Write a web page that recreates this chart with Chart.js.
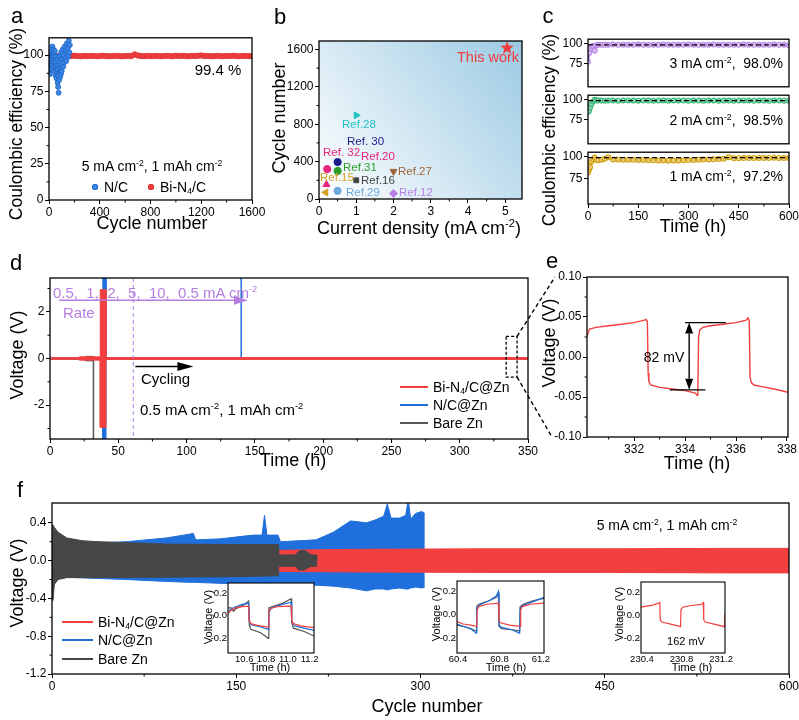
<!DOCTYPE html>
<html>
<head>
<meta charset="utf-8">
<title>Bi-N4/C@Zn figure</title>
<script src="https://cdn.jsdelivr.net/npm/chart.js@4.4.1/dist/chart.umd.min.js"></script>
<style>
  html, body { margin: 0; padding: 0; background: #fff; }
  body { position: relative; width: 799px; height: 720px; overflow: hidden;
         font-family: "Liberation Sans", Arial, sans-serif; }
  canvas { position: absolute; }
  .t { position: absolute; white-space: nowrap; line-height: 1; color: #000; }
  .t sup { font-size: 0.62em; vertical-align: 0.6em; line-height: 0; }
  .t sub { font-size: 0.62em; vertical-align: -0.25em; line-height: 0; }
  .key { position: absolute; height: 2px; }
  .dot { position: absolute; border-radius: 50%; }
</style>
</head>
<body>
<script>
// colours
const RED = '#f23f3f', BLUE = '#1f6fdc', GRAY = '#474747', PURPLE = '#b57ee3';

// ---- panel a: coulombic efficiency at 5 mA cm-2 ----
const aBiCycles = [0, 3, 6, 10, 15, 20, 30, 40, 50, 60,
  75, 100, 125, 150, 175, 200, 225, 250, 275, 300,
  325, 350, 375, 400, 425, 450, 475, 500, 525, 550,
  575, 600, 625, 650, 675, 700, 725, 750, 775, 800,
  825, 850, 875, 900, 925, 950, 975, 1000, 1025, 1050,
  1075, 1100, 1125, 1150, 1175, 1200, 1225, 1250, 1275, 1300,
  1325, 1350, 1375, 1400, 1425, 1450, 1475, 1500, 1525, 1550,
  1575, 1600];
const aBiCE = [88, 92, 94.5, 96, 97.2, 97.8, 98.4, 98.8, 99.0, 99.2,
  99.3, 99.4, 99.5, 99.3, 99.4, 99.6, 99.4, 99.3, 99.5, 99.4,
  99.4, 99.5, 99.3, 99.4, 99.6, 99.4, 99.3, 99.4, 99.5, 99.4,
  99.3, 99.4, 99.5, 99.4, 100.5, 99.8, 99.4, 99.3, 99.5, 99.4,
  99.4, 99.5, 99.3, 99.4, 99.5, 99.4, 99.3, 99.6, 99.4, 99.5,
  99.4, 99.3, 99.5, 99.4, 99.6, 99.8, 99.4, 99.5, 99.3, 99.4,
  99.5, 99.4, 99.3, 99.5, 99.4, 99.6, 99.4, 99.3, 99.5, 99.4,
  99.4, 99.3];
const aNCCycles = [1, 2, 3, 4, 5, 6, 7, 8, 9, 10, 11, 12, 13, 14,
  16, 18, 20, 22, 24, 26, 28, 30, 32, 34, 36, 38, 40, 42, 44, 46, 48, 50, 52, 54, 56, 58,
  60, 62, 64, 66, 68, 70, 72, 74, 76, 78, 80, 82, 84, 86, 88, 90, 92, 94, 96, 98, 100,
  104, 108, 112, 116, 120, 124, 128, 132, 136, 140, 144, 148, 152, 156, 160, 164];
const aNCCE = [96, 92, 88, 99, 94, 90, 97, 87, 101, 95, 92, 99, 96, 93,
  98, 94, 103, 97, 91, 106, 95, 100, 93, 104, 97, 101, 96, 99, 92, 103, 89, 97, 86, 95,
  91, 99, 84, 93, 88, 97, 81, 90, 78, 86, 74, 95, 83, 99, 88, 93, 85, 100, 91, 87, 102, 94, 89,
  97, 104, 92, 100, 95, 106, 98, 103, 96, 108, 101, 105, 99, 110, 102, 107];
const aXTicks = [0, 400, 800, 1200, 1600], aXMinor = [200, 600, 1000, 1400];
const aYTicks = [0, 25, 50, 75, 100], aYMinor = [12.5, 37.5, 62.5, 87.5];

// ---- panel b: comparison with literature ----
const bNames = ['This work', 'Ref.28', 'Ref. 30', 'Ref. 32', 'Ref.20', 'Ref.31', 'Ref.27', 'Ref.15', 'Ref.16', 'Ref.29', 'Ref.12'];
const bCurrent = [5.05, 1.0, 0.5, 0.22, 0.2, 0.5, 2.0, 0.18, 1.0, 0.5, 2.0];
const bCycles = [1615, 895, 395, 320, 155, 300, 295, 70, 200, 87, 60];
const bXTicks = [0, 1, 2, 3, 4, 5], bXMinor = [0.5, 1.5, 2.5, 3.5, 4.5];
const bYTicks = [0, 400, 800, 1200, 1600], bYMinor = [200, 600, 1000, 1400];

// ---- panel c: CE at 3 / 2 / 1 mA cm-2 ----
const cTime = [0, 3, 6, 10, 15, 20, 25, 30, 40, 50, 60,
  75, 90, 105, 120, 135, 150, 165, 180, 195,
  210, 225, 240, 255, 270, 285, 300, 315, 330, 345,
  360, 375, 390, 405, 420, 435, 450, 465, 480, 495,
  510, 525, 540, 555, 570, 585, 600];
const c3mA = [77, 88, 93, 95.5, 97, 91, 97.6, 98, 98.2, 98, 98.1,
  98.3, 98, 98.2, 98.1, 98, 98.3, 98.2, 98, 98.1,
  98.2, 98.3, 98, 98.1, 98.2, 98, 98.3, 98.1, 98, 98.2,
  98.1, 98.3, 98, 98.2, 98.1, 98, 98.2, 98.3, 98.1, 98,
  98.2, 98.1, 98, 98.3, 98.2, 98.1, 97.6];
const c2mA = [85, 86, 90, 94, 97.5, 99.5, 98.8, 98.5, 98.6, 98.4, 98.5,
  98.6, 98.4, 98.5, 98.7, 98.5, 98.4, 98.6, 98.5, 98.3,
  98.5, 98.6, 98.4, 98.5, 98.7, 98.5, 98.4, 98.6, 98.5, 98.4,
  98.6, 98.5, 98.3, 98.5, 98.6, 98.4, 98.5, 98.7, 98.5, 98.4,
  98.6, 98.5, 98.4, 98.6, 98.5, 98.4, 98.2];
const c1mA = [82, 85, 88, 94, 97, 99, 96.5, 95.8, 96.5, 97.5, 99.2,
  96.8, 96.6, 96.5, 96.4, 96.3, 96.2, 96, 95.8, 95.7,
  95.6, 95.5, 95.4, 95.5, 95.6, 95.8, 96, 96.2, 96.4, 96.6,
  96.8, 97, 97.3, 97.6, 99.3, 98, 98.2, 98.3, 98.4, 98.5,
  98.5, 98.4, 98.5, 98.6, 98.5, 98.4, 98.3];
const cLevels = [98.0, 98.3, 98.9];
const cXTicks = [0, 150, 300, 450, 600], cXMinor = [75, 225, 375, 525];
const cYTicks = [75, 100];

// ---- panel d: symmetric cells, rate + cycling at 0.5 mA cm-2 ----
const dBiX = [0.5, 20, 22, 34, 36.8, 36.8, 41, 41, 350];
const dBiHi = [0.035, 0.035, 0.07, 0.07, 0.07, 2.95, 2.95, 0.04, 0.04];
const dBiLo = [-0.035, -0.035, -0.07, -0.07, -0.07, -2.95, -2.95, -0.04, -0.04];
const dNCX = [0.5, 38.7, 38.7, 41, 41, 140];
const dNCHi = [0.02, 0.02, 3.45, 3.45, 0.03, 0.03];
const dNCLo = [-0.02, -0.02, -3.45, -3.45, -0.03, -0.03];
const dNCSpike = [[140, 0], [140, 3.45]];
const dBareX = [0.5, 25, 26, 31.8];
const dBareHi = [0.02, 0.02, 0.09, 0.09];
const dBareLo = [-0.02, -0.02, -0.1, -0.1];
const dBareDrop = [[31.8, 0.09], [31.8, -3.45]];
const dRateEnd = 61;
const dRateArrow = [6.8, 145, 2.5];
const dCycleArrow = [62.5, 105, -0.34];
const dZoomBox = [334, 342, -0.8, 0.95];
const dXTicks = [0, 50, 100, 150, 200, 250, 300, 350], dXMinor = [25, 75, 125, 175, 225, 275, 325];
const dYTicks = [-2, 0, 2], dYMinor = [-3, -1, 1, 3];

// ---- panel e: zoom of Bi-N4/C@Zn profile ----
const eProfile = [[330.15, 0.026], [330.25, 0.035], [330.5, 0.037], [331, 0.039], [331.5, 0.041],
  [332, 0.043], [332.4, 0.046], [332.47, 0.047], [332.52, 0.044], [332.55, -0.02], [332.58, -0.031],
  [332.65, -0.035], [333, -0.038], [333.5, -0.04], [334, -0.042], [334.4, -0.045], [334.47, -0.048],
  [334.5, -0.045], [334.53, 0.025], [334.58, 0.034], [334.7, 0.037], [335, 0.039], [335.5, 0.041],
  [336, 0.043], [336.4, 0.046], [336.47, 0.049], [336.52, 0.045], [336.55, -0.025], [336.6, -0.032],
  [336.7, -0.035], [337, -0.037], [337.5, -0.04], [338.04, -0.044]];
const eGapTop = [334.0, 335.6, 0.043], eGapBot = [333.4, 334.8, -0.041], eArrowX = 334.16;
const eXTicks = [332, 334, 336, 338], eXMinor = [331, 333, 335, 337];
const eYTicks = [-0.1, -0.05, 0, 0.05, 0.1], eYMinor = [-0.075, -0.025, 0.025, 0.075];

// ---- panel f: cycling at 5 mA cm-2 (envelopes of the dense profiles) ----
const fBlueX = [0, 60, 93, 112, 115, 117, 136, 164, 171, 173, 175, 184, 186, 215, 229, 243, 256, 263, 270, 273, 276, 283, 288, 290, 292, 296, 301, 303.5];
const fBlueHi = [0.17, 0.2, 0.24, 0.28, 0.29, 0.22, 0.23, 0.27, 0.27, 0.48, 0.27, 0.27, 0.2, 0.22, 0.3, 0.42, 0.4, 0.43, 0.47, 0.6, 0.45, 0.45, 0.48, 0.65, 0.44, 0.5, 0.52, 0.5];
const fBlueLo = [-0.17, -0.2, -0.22, -0.23, -0.23, -0.23, -0.24, -0.25, -0.25, -0.25, -0.25, -0.26, -0.26, -0.26, -0.27, -0.29, -0.32, -0.3, -0.3, -0.31, -0.3, -0.29, -0.3, -0.3, -0.29, -0.28, -0.29, -0.28];
const fRedX = [0, 100, 184, 250, 350, 450, 550, 600];
const fRedHi = [0.11, 0.11, 0.11, 0.12, 0.125, 0.125, 0.13, 0.13];
const fRedLo = [-0.11, -0.11, -0.115, -0.12, -0.125, -0.125, -0.13, -0.13];
const fGrayX = [0, 0.6, 2, 5, 12, 25, 39, 93, 150, 184, 184.5, 198, 201, 205, 208, 211, 215, 215.5];
const fGrayHi = [0.05, 0.38, 0.35, 0.3, 0.24, 0.21, 0.2, 0.175, 0.17, 0.17, 0.06, 0.06, 0.1, 0.11, 0.09, 0.06, 0.06, 0];
const fGrayLo = [-0.05, -0.42, -0.25, -0.2, -0.18, -0.18, -0.18, -0.175, -0.17, -0.16, -0.06, -0.06, -0.1, -0.1, -0.08, -0.06, -0.06, 0];
const fXTicks = [0, 150, 300, 450, 600], fXMinor = [75, 225, 375, 525];
const fYTicks = [-1.2, -0.8, -0.4, 0, 0.4], fYMinor = [-1.0, -0.6, -0.2, 0.2];

// insets of f (time in h, voltage in V)
const in1Red = [[10.45, 0.02], [10.48, 0.05], [10.52, 0.07], [10.58, 0.08], [10.64, 0.085], [10.645, -0.04], [10.66, -0.07], [10.72, -0.085], [10.82, -0.1], [10.825, 0.04], [10.84, 0.065], [10.9, 0.08], [11.03, 0.085], [11.035, -0.04], [11.05, -0.07], [11.12, -0.09], [11.24, -0.105]];
const in1Blue = [[10.45, 0.04], [10.5, 0.07], [10.58, 0.1], [10.64, 0.11], [10.645, -0.04], [10.66, -0.08], [10.75, -0.1], [10.82, -0.12], [10.825, 0.03], [10.85, 0.07], [10.95, 0.1], [11.03, 0.12], [11.035, -0.04], [11.06, -0.09], [11.15, -0.11], [11.24, -0.13]];
const in1Gray = [[10.45, 0.07], [10.48, 0.07], [10.5, 0.04], [10.52, 0.06], [10.56, 0.08], [10.6, 0.1], [10.64, 0.13], [10.645, -0.08], [10.66, -0.12], [10.75, -0.15], [10.82, -0.2], [10.825, 0.07], [10.85, 0.08], [10.95, 0.11], [11.03, 0.15], [11.035, -0.06], [11.05, -0.11], [11.15, -0.14], [11.24, -0.18]];
const in2Red = [[60.39, -0.06], [60.45, -0.08], [60.52, -0.09], [60.58, -0.1], [60.585, 0.04], [60.6, 0.07], [60.68, 0.09], [60.79, 0.1], [60.795, -0.05], [60.81, -0.07], [60.9, -0.09], [61.0, -0.1], [61.005, 0.04], [61.02, 0.07], [61.1, 0.09], [61.23, 0.1]];
const in2Blue = [[60.39, -0.08], [60.45, -0.1], [60.52, -0.12], [60.575, -0.16], [60.58, 0.06], [60.6, 0.08], [60.7, 0.12], [60.77, 0.16], [60.79, 0.2], [60.795, -0.09], [60.82, -0.11], [60.92, -0.13], [60.995, -0.16], [61.0, 0.06], [61.03, 0.08], [61.12, 0.11], [61.23, 0.15]];
const in2Gray = [[60.39, -0.09], [60.45, -0.1], [60.52, -0.12], [60.575, -0.14], [60.58, 0.07], [60.6, 0.09], [60.7, 0.12], [60.77, 0.15], [60.79, 0.18], [60.795, -0.1], [60.82, -0.12], [60.92, -0.13], [60.995, -0.14], [61.0, 0.07], [61.03, 0.09], [61.12, 0.12], [61.23, 0.14]];
const in3Red = [[230.39, 0.07], [230.45, 0.08], [230.52, 0.09], [230.58, 0.11], [230.585, -0.04], [230.6, -0.06], [230.7, -0.08], [230.79, -0.1], [230.795, 0.05], [230.81, 0.07], [230.9, 0.085], [231.0, 0.095], [231.02, 0.11], [231.025, -0.04], [231.04, -0.06], [231.14, -0.08], [231.235, -0.1], [231.24, 0.02]];
const inYTicks = [-0.2, 0, 0.2];

// ---------------------------------------------------------------
Chart.defaults.font.family = '"Liberation Sans", Arial, sans-serif';
Chart.defaults.font.size = 12;
Chart.defaults.color = '#000';

const xy = (xs, ys) => xs.map((x, i) => ({ x, y: ys[i] }));
const pts = arr => arr.map(([x, y]) => ({ x, y }));

// frame round the plot area, minor ticks, optional background
Chart.register({
  id: 'frame',
  beforeDraw(chart, args, o) {
    const { ctx, chartArea: a } = chart;
    if (o.fill) {
      ctx.save(); ctx.fillStyle = o.fill;
      ctx.fillRect(a.left, a.top, a.right - a.left, a.bottom - a.top); ctx.restore();
    }
    if (o.gradient) {
      const g = ctx.createLinearGradient(a.left, a.bottom, a.right, a.top);
      g.addColorStop(0, o.gradient[0]); g.addColorStop(1, o.gradient[1]);
      ctx.save(); ctx.fillStyle = g;
      ctx.fillRect(a.left, a.top, a.right - a.left, a.bottom - a.top); ctx.restore();
    }
  },
  afterDraw(chart, args, o) {
    const { ctx, chartArea: a, scales } = chart;
    ctx.save();
    ctx.strokeStyle = '#000'; ctx.lineWidth = o.width || 1.3;
    ctx.strokeRect(a.left, a.top, a.right - a.left, a.bottom - a.top);
    ctx.lineWidth = 1;
    const len = o.minorLen === undefined ? 2.5 : o.minorLen;
    ctx.beginPath();
    (o.minorX || []).forEach(v => {
      const px = scales.x.getPixelForValue(v);
      ctx.moveTo(px, a.bottom); ctx.lineTo(px, a.bottom + len);
    });
    (o.minorY || []).forEach(v => {
      const py = scales.y.getPixelForValue(v);
      ctx.moveTo(a.left, py); ctx.lineTo(a.left - len, py);
    });
    ctx.stroke();
    ctx.restore();
  }
});

function axis(min, max, majors, digits, size) {
  const small = !!size;
  return {
    type: 'linear', min, max,
    afterBuildTicks: s => { s.ticks = majors.map(v => ({ value: v })); },
    ticks: { callback: v => v.toFixed(digits), font: { size: size || 12 }, padding: small ? 1 : 1.5,
             autoSkip: false, maxRotation: 0, color: '#000' },
    grid: { drawOnChartArea: false, drawTicks: !small, tickLength: small ? 0 : 4, color: '#000', lineWidth: 1 },
    border: { display: false }
  };
}

// canvas placed so that the plot area lands on rect (page pixels)
function panel(rect, m, cfg) {
  const c = document.createElement('canvas');
  const w = rect.r - rect.l + m.l + m.r, h = rect.b - rect.t + m.t + m.b;
  c.style.left = (rect.l - m.l) + 'px';
  c.style.top = (rect.t - m.t) + 'px';
  c.style.width = w + 'px'; c.style.height = h + 'px';
  c.width = w; c.height = h;
  document.body.appendChild(c);
  const o = cfg.options;
  o.responsive = false; o.animation = false; o.events = [];
  o.layout = { padding: { top: m.t, right: m.r, left: 0, bottom: 0 } };
  o.scales.x.afterFit = s => { s.height = m.b; s.paddingLeft = 0; s.paddingRight = 0; };
  o.scales.y.afterFit = s => { s.width = m.l; s.paddingTop = 0; s.paddingBottom = 0; };
  o.plugins = Object.assign({ legend: { display: false }, tooltip: { enabled: false } }, o.plugins || {});
  return new Chart(c, cfg);
}

function band(xs, hi, lo, color, order) {
  return [
    { data: xy(xs, hi), borderColor: color, borderWidth: 1, pointRadius: 0, fill: false, order },
    { data: xy(xs, lo), borderColor: color, borderWidth: 1, pointRadius: 0, backgroundColor: color, fill: '-1', order }
  ];
}

function line(data, color, width, order, dash) {
  return { data, borderColor: color, borderWidth: width, pointRadius: 0, fill: false, order, borderDash: dash || [] };
}

function arrow(ctx, x0, y0, x1, y1, color, head, half, w) {
  const ang = Math.atan2(y1 - y0, x1 - x0), c = Math.cos(ang), s = Math.sin(ang);
  const bx = x1 - head * c, by = y1 - head * s;
  ctx.save();
  ctx.strokeStyle = color; ctx.fillStyle = color; ctx.lineWidth = w; ctx.setLineDash([]);
  ctx.beginPath(); ctx.moveTo(x0, y0); ctx.lineTo(bx, by); ctx.stroke();
  ctx.beginPath(); ctx.moveTo(x1, y1);
  ctx.lineTo(bx - half * s, by + half * c); ctx.lineTo(bx + half * s, by - half * c);
  ctx.closePath(); ctx.fill();
  ctx.restore();
}

// ---- a ----
panel({ l: 49, t: 37, r: 252, b: 200 }, { l: 32, t: 4, r: 16, b: 18 }, {
  type: 'line',
  data: { datasets: [
    { data: xy(aNCCycles, aNCCE), showLine: false, pointRadius: 2.5, pointBackgroundColor: '#3b87e6',
      pointBorderColor: '#1e62c4', pointBorderWidth: 0.8, order: 1 },
    { data: xy(aBiCycles, aBiCE), showLine: true, borderColor: RED, borderWidth: 4, pointRadius: 2.7,
      pointBackgroundColor: RED, pointBorderColor: '#d62d2d', pointBorderWidth: 0.8, order: 2 }
  ] },
  options: { scales: { x: axis(0, 1600, aXTicks, 0), y: axis(0, 112, aYTicks, 0) },
    plugins: { frame: { minorX: aXMinor, minorY: aYMinor } } }
});

// ---- b ----
function starImage(r, color) {
  const c = document.createElement('canvas'); c.width = c.height = 2 * r + 2;
  const g = c.getContext('2d'); g.fillStyle = color; g.beginPath();
  for (let i = 0; i < 10; i++) {
    const rr = i % 2 ? r * 0.42 : r, an = -Math.PI / 2 + i * Math.PI / 5;
    g.lineTo(r + 1 + rr * Math.cos(an), r + 1 + rr * Math.sin(an));
  }
  g.closePath(); g.fill(); return c;
}
const bColors = ['#f03c3c', '#22c5c5', '#1c1c8c', '#e8247c', '#e8247c', '#2b9c2b', '#a0663a', '#d4a020', '#444444', '#6fa8dc', '#b77fe6'];
const bStyles = [starImage(7, '#f03c3c'), 'triangle', 'circle', 'circle', 'triangle', 'circle', 'triangle', 'triangle', 'rect', 'circle', 'rectRot'];
const bRot = [0, 90, 0, 0, 0, 0, 180, -90, 0, 0, 0];
const bSize = [7, 4, 3.6, 3.6, 4, 3.6, 4, 4, 3.4, 3.6, 4];
panel({ l: 319, t: 37, r: 522, b: 199 }, { l: 38, t: 4, r: 8, b: 18 }, {
  type: 'line',
  data: { datasets: [{ data: xy(bCurrent, bCycles), showLine: false, pointStyle: bStyles, pointRadius: bSize,
    pointRotation: bRot, pointBackgroundColor: bColors, pointBorderColor: bColors, pointBorderWidth: 1 }] },
  options: { scales: { x: axis(0, 5.45, bXTicks, 0), y: axis(0, 1690, bYTicks, 0) },
    plugins: { frame: { minorX: bXMinor, minorY: bYMinor, gradient: ['#ffffff', '#9ccae3'] } } }
});

// ---- c ----
const cSeries = [c3mA, c2mA, c1mA];
const cColors = ['#b985e8', '#3cb878', '#d3a00f'];
const cRects = [{ l: 588, t: 36, r: 789, b: 92 }, { l: 588, t: 92, r: 789, b: 149 }, { l: 588, t: 149, r: 789, b: 204 }];
cSeries.forEach((vals, k) => {
  const last = k === 2;
  const xa = axis(0, 600, cXTicks, 0);
  xa.display = last;
  panel(cRects[k], { l: 28, t: 2, r: 12, b: last ? 18 : 0 }, {
    type: 'line',
    data: { datasets: [
      line(xy([0, 600], [cLevels[k], cLevels[k]]), '#000', 1.2, 1, [5, 3]),
      { data: xy(cTime, vals), showLine: true, borderColor: cColors[k], borderWidth: 2.5, pointRadius: 2.4,
        pointBorderColor: cColors[k], pointBackgroundColor: 'rgba(255,255,255,0.4)', pointBorderWidth: 1.2, order: 2 }
    ] },
    options: { scales: { x: xa, y: axis(46, 105, cYTicks, 0) },
      plugins: { frame: { minorX: last ? cXMinor : [] } } }
  });
});

// ---- d ----
const chartD = panel({ l: 50, t: 278, r: 528, b: 439 }, { l: 30, t: 4, r: 12, b: 18 }, {
  type: 'line',
  data: { datasets: [
    ...band(dBiX, dBiHi, dBiLo, RED, 1),
    line(pts(dBareDrop), '#555555', 1.5, 2),
    ...band(dBareX, dBareHi, dBareLo, '#555555', 2),
    line(pts(dNCSpike), BLUE, 1.5, 3),
    ...band(dNCX, dNCHi, dNCLo, BLUE, 3)
  ] },
  options: { scales: { x: axis(0, 350, dXTicks, 0), y: axis(-3.45, 3.45, dYTicks, 0) },
    plugins: { frame: { minorX: dXMinor, minorY: dYMinor } } },
  plugins: [{ id: 'dNotes', afterDatasetsDraw(chart) {
    const { ctx, chartArea: a, scales: { x, y } } = chart;
    ctx.save();
    ctx.strokeStyle = PURPLE; ctx.lineWidth = 1; ctx.setLineDash([4, 3]);
    const px = x.getPixelForValue(dRateEnd);
    ctx.beginPath(); ctx.moveTo(px, a.top); ctx.lineTo(px, a.bottom); ctx.stroke();
    ctx.strokeStyle = '#000'; ctx.lineWidth = 1.3; ctx.setLineDash([3, 2]);
    const bx0 = x.getPixelForValue(dZoomBox[0]), bx1 = x.getPixelForValue(dZoomBox[1]);
    const by0 = y.getPixelForValue(dZoomBox[3]), by1 = y.getPixelForValue(dZoomBox[2]);
    ctx.strokeRect(bx0, by0, bx1 - bx0, by1 - by0);
    ctx.restore();
    arrow(ctx, x.getPixelForValue(dRateArrow[0]), y.getPixelForValue(dRateArrow[2]),
      x.getPixelForValue(dRateArrow[1]), y.getPixelForValue(dRateArrow[2]), PURPLE, 14, 4.5, 1.5);
    arrow(ctx, x.getPixelForValue(dCycleArrow[0]), y.getPixelForValue(dCycleArrow[2]),
      x.getPixelForValue(dCycleArrow[1]), y.getPixelForValue(dCycleArrow[2]), '#000', 16, 4.5, 1.5);
  } }]
});

// ---- e ----
const chartE = panel({ l: 587, t: 277, r: 788, b: 437 }, { l: 36, t: 6, r: 11, b: 18 }, {
  type: 'line',
  data: { datasets: [line(pts(eProfile), RED, 1.4, 1)] },
  options: { scales: { x: axis(330.15, 338.04, eXTicks, 0), y: axis(-0.1, 0.1, eYTicks, 2) },
    plugins: { frame: { minorX: eXMinor, minorY: eYMinor } } },
  plugins: [{ id: 'eNotes', afterDatasetsDraw(chart) {
    const { ctx, scales: { x, y } } = chart;
    ctx.save(); ctx.strokeStyle = '#000'; ctx.lineWidth = 1.2;
    ctx.beginPath();
    ctx.moveTo(x.getPixelForValue(eGapTop[0]), y.getPixelForValue(eGapTop[2]));
    ctx.lineTo(x.getPixelForValue(eGapTop[1]), y.getPixelForValue(eGapTop[2]));
    ctx.moveTo(x.getPixelForValue(eGapBot[0]), y.getPixelForValue(eGapBot[2]));
    ctx.lineTo(x.getPixelForValue(eGapBot[1]), y.getPixelForValue(eGapBot[2]));
    ctx.stroke(); ctx.restore();
    const ax = x.getPixelForValue(eArrowX), yt = y.getPixelForValue(eGapTop[2]), yb = y.getPixelForValue(eGapBot[2]);
    const ym = (yt + yb) / 2;
    arrow(ctx, ax, ym, ax, yt, '#000', 11, 4, 1.4);
    arrow(ctx, ax, ym, ax, yb, '#000', 11, 4, 1.4);
  } }]
});

// ---- f ----
panel({ l: 52, t: 503, r: 789, b: 674 }, { l: 34, t: 4, r: 11, b: 18 }, {
  type: 'line',
  data: { datasets: [
    ...band(fGrayX, fGrayHi, fGrayLo, GRAY, 1),
    ...band(fRedX, fRedHi, fRedLo, RED, 2),
    ...band(fBlueX, fBlueHi, fBlueLo, BLUE, 3)
  ] },
  options: { scales: { x: axis(0, 600, fXTicks, 0), y: axis(-1.2, 0.61, fYTicks, 1) },
    plugins: { frame: { minorX: fXMinor, minorY: fYMinor } } }
});

// insets
function inset(rect, xr, xt, digits, series) {
  panel(rect, { l: 20, t: 2, r: 9, b: 11 }, {
    type: 'line',
    data: { datasets: series.map(([d, col], i) => line(pts(d), col, 1.2, i + 1)) },
    options: { scales: { x: axis(xr[0], xr[1], xt, digits, 9.5), y: axis(-0.33, 0.29, inYTicks, 1, 9.5) },
      plugins: { frame: { fill: '#fff', width: 1.1, minorLen: 0 } } }
  });
}
inset({ l: 228, t: 583, r: 314, b: 653 }, [10.45, 11.24], [10.6, 10.8, 11.0, 11.2], 1,
  [[in1Red, RED], [in1Blue, BLUE], [in1Gray, '#555555']]);
inset({ l: 457, t: 581, r: 544, b: 653 }, [60.39, 61.23], [60.4, 60.8, 61.2], 1,
  [[in2Red, RED], [in2Blue, BLUE], [in2Gray, '#555555']]);
inset({ l: 641, t: 582, r: 725, b: 653 }, [230.39, 231.24], [230.4, 230.8, 231.2], 1,
  [[in3Red, RED]]);

// connectors from the dashed box in d to panel e
(function () {
  const ov = document.createElement('canvas');
  ov.width = 799; ov.height = 720; ov.style.left = '0px'; ov.style.top = '0px';
  document.body.appendChild(ov);
  const g = ov.getContext('2d');
  const dl = chartD.canvas.offsetLeft, dt = chartD.canvas.offsetTop;
  const el = chartE.canvas.offsetLeft, et = chartE.canvas.offsetTop, ea = chartE.chartArea;
  const bx = dl + chartD.scales.x.getPixelForValue(dZoomBox[1]);
  const byTop = dt + chartD.scales.y.getPixelForValue(dZoomBox[3]);
  const byBot = dt + chartD.scales.y.getPixelForValue(dZoomBox[2]);
  g.strokeStyle = '#000'; g.lineWidth = 1.4; g.setLineDash([4, 3]);
  g.beginPath();
  g.moveTo(bx, byTop); g.lineTo(el + ea.left - 32, et + ea.top);
  g.moveTo(bx, byBot); g.lineTo(el + ea.left - 35, et + ea.bottom);
  g.stroke();
})();

// ---- text ----
function txt(x, y, html, size, o = {}) {
  const d = document.createElement('div');
  d.className = 't';
  d.innerHTML = html;
  d.style.left = x + 'px'; d.style.top = y + 'px'; d.style.fontSize = size + 'px';
  if (o.color) d.style.color = o.color;
  const tx = o.align === 'left' ? '0' : o.align === 'right' ? '-100%' : '-50%';
  d.style.transform = `translate(${tx}, -50%)` + (o.rot ? ` rotate(${o.rot}deg)` : '');
  document.body.appendChild(d);
}
function key(x, y, w, color) {
  const d = document.createElement('div');
  d.className = 'key'; d.style.left = x + 'px'; d.style.top = (y - 1) + 'px';
  d.style.width = w + 'px'; d.style.background = color;
  document.body.appendChild(d);
}
function dot(x, y, r, color, edge) {
  const d = document.createElement('div');
  d.className = 'dot'; d.style.left = (x - r) + 'px'; d.style.top = (y - r) + 'px';
  d.style.width = d.style.height = (2 * r) + 'px';
  d.style.background = color; d.style.boxShadow = `inset 0 0 0 0.8px ${edge}`;
  document.body.appendChild(d);
}
const cm2 = 'cm<sup>-2</sup>';
const BiN4 = 'Bi-N<sub>4</sub>/C';

// a
txt(17, 16, 'a', 22);
txt(17, 124, 'Coulombic efficiency (%)', 17.5, { rot: -90 });
txt(152, 223, 'Cycle number', 18);
txt(218, 69, '99.4 %', 15);
txt(152, 166, `5 mA ${cm2}, 1 mAh ${cm2}`, 14);
dot(95, 187, 3.2, '#3b87e6', '#1e62c4');
txt(104, 187, 'N/C', 14, { align: 'left' });
dot(151, 187, 3.2, RED, '#d62d2d');
txt(160, 187, BiN4, 14, { align: 'left' });

// b
txt(280, 17, 'b', 22);
txt(279, 118, 'Cycle number', 18, { rot: -90 });
txt(419, 228, `Current density (mA ${cm2})`, 18);
const bLabelPos = [[457, 57, 14.5], [342, 125, 11.5], [347, 142, 11.5], [323, 153, 11.5], [361, 157, 11.5],
  [343, 168, 11.5], [398, 172, 11.5], [320, 178, 11.5], [361, 181, 11.5], [346, 193, 11.5], [399, 193, 11.5]];
bNames.forEach((n, i) => txt(bLabelPos[i][0], bLabelPos[i][1], n, bLabelPos[i][2], { align: 'left', color: bColors[i] }));

// c
txt(548, 16, 'c', 22);
txt(550, 130, 'Coulombic efficiency (%)', 17.5, { rot: -90 });
txt(693, 226, 'Time (h)', 18);
txt(783, 63, `3 mA ${cm2},&nbsp; 98.0%`, 14, { align: 'right' });
txt(783, 120, `2 mA ${cm2},&nbsp; 98.5%`, 14, { align: 'right' });
txt(783, 176, `1 mA ${cm2},&nbsp; 97.2%`, 14, { align: 'right' });

// d
txt(16, 263, 'd', 22);
txt(17, 355, 'Voltage (V)', 18, { rot: -90 });
txt(293, 460, 'Time (h)', 18);
txt(53, 292, `0.5,&nbsp; 1,&nbsp; 2,&nbsp; 5,&nbsp; 10,&nbsp; 0.5 mA ${cm2}`, 15, { align: 'left', color: PURPLE });
txt(63, 312, 'Rate', 15, { align: 'left', color: PURPLE });
txt(141, 378, 'Cycling', 15, { align: 'left' });
txt(140, 409, `0.5 mA ${cm2}, 1 mAh ${cm2}`, 15, { align: 'left' });
key(400, 387, 28, RED); txt(433, 387, BiN4 + '@Zn', 14, { align: 'left' });
key(400, 405, 28, BLUE); txt(433, 405, 'N/C@Zn', 14, { align: 'left' });
key(400, 423, 28, '#555555'); txt(433, 423, 'Bare Zn', 14, { align: 'left' });

// e
txt(552, 261, 'e', 22);
txt(549, 343, 'Voltage (V)', 18, { rot: -90 });
txt(697, 463, 'Time (h)', 18);
txt(664, 357, '82 mV', 14);

// f
txt(20, 490, 'f', 22);
txt(17, 583, 'Voltage (V)', 18, { rot: -90 });
txt(427, 706, 'Cycle number', 18);
txt(667, 525, `5 mA ${cm2}, 1 mAh ${cm2}`, 14);
key(62, 622, 31, RED); txt(98, 622, BiN4 + '@Zn', 14, { align: 'left' });
key(62, 640, 31, BLUE); txt(98, 640, 'N/C@Zn', 14, { align: 'left' });
key(62, 659, 31, GRAY); txt(98, 659, 'Bare Zn', 14, { align: 'left' });
[[208, 617], [436, 614], [619, 614]].forEach(([x, y]) => txt(x, y, 'Voltage (V)', 11, { rot: -90 }));
[[270, 667], [506, 667], [692, 667]].forEach(([x, y]) => txt(x, y, 'Time (h)', 11));
txt(686, 641, '162 mV', 11);
</script>
</body>
</html>
